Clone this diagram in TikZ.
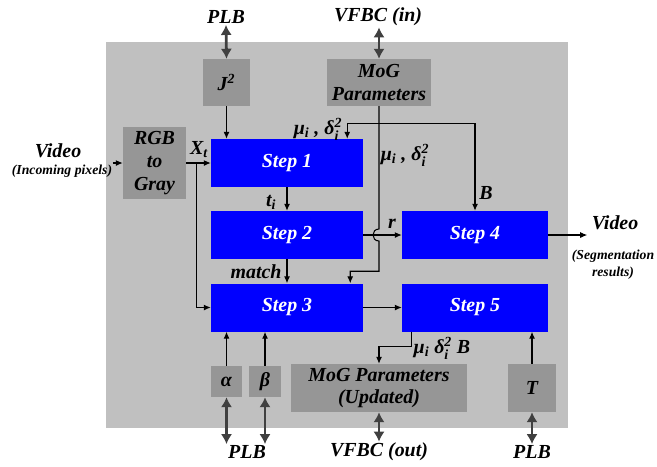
\documentclass[tikz,border=0pt]{standalone}
\usepackage{amsmath}
\usepackage{fontspec}
\setmainfont{Liberation Serif}
\usetikzlibrary{arrows.meta,calc}

\definecolor{panelgray}{HTML}{C0C0C0}
\definecolor{boxgray}{HTML}{969696}
\definecolor{stepblue}{HTML}{0000FF}
\definecolor{busgray}{HTML}{404040}
\newcommand{\bigfont}{\fontsize{17}{19.6}\selectfont\bfseries\itshape}
\newcommand{\smallfont}{\fontsize{11.7}{14}\selectfont\bfseries\itshape}

\begin{document}
\begin{tikzpicture}[
    x=0.03cm, y=-0.03cm,
    wire/.style={draw=black, line width=0.9pt, -{Latex[length=2.1mm,width=1.8mm]}},
    bus/.style={draw=busgray, line width=2.4pt, {Latex[length=3mm,width=3.4mm]}-{Latex[length=3mm,width=3.4mm]}},
    regbox/.style={fill=boxgray, font=\bigfont, align=center, inner sep=0pt},
    stepbox/.style={fill=stepblue, text=white, font=\bigfont, inner sep=0pt, minimum height=1.44cm},
    lbl/.style={font=\bigfont, inner sep=1pt},
    note/.style={font=\smallfont, align=center, inner sep=1pt}
]
  \useasboundingbox (0,0) rectangle (657,466);
  \fill[panelgray] (106,42) rectangle (568,428);

  % registers
  \node[regbox, minimum width=1.41cm, minimum height=1.41cm] (j2) at (226.5,82.5) {J$^{\text{2}}$};
  \node[regbox, minimum width=3.12cm, minimum height=1.41cm] (mogin) at (379,82.5) {MoG\\Parameters};
  \node[regbox, minimum width=1.89cm, minimum height=2.16cm] (rgb) at (154.5,163) {RGB\\to\\Gray};
  \node[regbox, minimum width=0.95cm, minimum height=0.93cm] (alpha) at (226.5,381.5) {α};
  \node[regbox, minimum width=0.95cm, minimum height=0.93cm] (beta) at (265,381.5) {β};
  \node[regbox, minimum width=5.28cm, minimum height=1.44cm] (mogout) at (379,388) {MoG Parameters\\(Updated)};
  \node[regbox, minimum width=1.44cm, minimum height=1.44cm] (tbox) at (532,388) {T};

  % steps
  \node[stepbox, minimum width=4.56cm] (step1) at (287,163) {Step 1};
  \node[stepbox, minimum width=4.56cm] (step2) at (287,235) {Step 2};
  \node[stepbox, minimum width=4.56cm] (step3) at (287,307.5) {Step 3};
  \node[stepbox, minimum width=4.38cm] (step4) at (475,235) {Step 4};
  \node[stepbox, minimum width=4.38cm] (step5) at (475,307.5) {Step 5};

  % outside labels
  \node[lbl] (plbtop) at (226,17) {PLB};
  \node[lbl] (vfbcin) at (378,17) {VFBC (in)};
  \node[lbl] (vidin) at (58,151) {Video};
  \node[note] (incoming) at (62,171) {(Incoming pixels)};
  \node[lbl] (vidout) at (615,223) {Video};
  \node[note] (seg) at (613,264.5) {(Segmentation\\results)};
  \node[lbl] (plbbot) at (247,452) {PLB};
  \node[lbl] (vfbcout) at (379,452) {VFBC (out)};
  \node[lbl] (plbt) at (532,452) {PLB};

  % signal labels
  \node[lbl] (xt) at (199,150) {X$_{\text{t}}$};
  \node[lbl] (mu1) at (318,129) {μ$_{\text{i}}$ , δ$_{\text{i}}^{\text{2}}$};
  \node[lbl] (mu2) at (405,155) {μ$_{\text{i}}$ , δ$_{\text{i}}^{\text{2}}$};
  \node[lbl] (ti) at (271,202) {t$_{\text{i}}$};
  \node[lbl] (match) at (256,272) {match};
  \node[lbl] (blbl) at (486,193) {B};
  \node[lbl] (rlbl) at (392,224) {r};
  \node[lbl] (mu3) at (442,348) {μ$_{\text{i}}$ δ$_{\text{i}}^{\text{2}}$ B};

  % helper points
  \coordinate (vin) at ($(rgb.west)+(-10,0)$);
  \coordinate (br) at ($(rgb.east)+(10,0)$);
  \coordinate (tap) at ($(mogin.south)+(0,17)$);
  \coordinate (s1in) at ($(step1.north east)+(-16,0)$);
  \coordinate (s3in) at ($(step3.north east)+(-13,0)$);
  \coordinate (hop) at (mogin.south |- step2.east);
  \coordinate (s5out) at ($(step5.south west)+(10,0)$);
  \coordinate (vout) at ($(step4.east)+(39,0)$);

  % buses
  \draw[bus] (plbtop.south) -- (j2.north);
  \draw[bus] (vfbcin.south -| mogin.north) -- (mogin.north);
  \draw[bus] (alpha.south) -- (alpha.south |- plbbot.north);
  \draw[bus] (beta.south) -- (beta.south |- plbbot.north);
  \draw[bus] (mogout.south) -- (vfbcout.north);
  \draw[bus] (tbox.south) -- (plbt.north);

  % wires
  \draw[wire] (vin) -- (rgb.west);
  \draw[wire] (rgb.east) -- (step1.west);
  \draw[wire] (br) |- (step3.west);
  \draw[wire] (j2.south) -- (j2.south |- step1.north);
  \draw[wire] (tap) -| (s1in);
  \draw[wire] (tap) -| (step4.north);
  \draw[wire] (mogin.south) -- ($(hop)+(0,-6)$) .. controls +(-8,0) and +(-8,0) .. ($(hop)+(0,6)$)
    -- ($(mogin.south)+(0,165)$) -| (s3in);
  \draw[wire] (step1.south) -- (step2.north);
  \draw[wire] (step2.south) -- (step3.north);
  \draw[wire] (step2.east) -- (step4.west);
  \draw[wire] (step3.east) -- (step5.west);
  \draw[wire] (step4.east) -- (vout);
  \draw[wire] (s5out) -- ($(s5out)+(0,15)$) -| (mogout.north);
  \draw[wire] (alpha.north) -- (alpha.north |- step3.south);
  \draw[wire] (beta.north) -- (beta.north |- step3.south);
  \draw[wire] (tbox.north) -- (tbox.north |- step5.south);
\end{tikzpicture}
\end{document}
